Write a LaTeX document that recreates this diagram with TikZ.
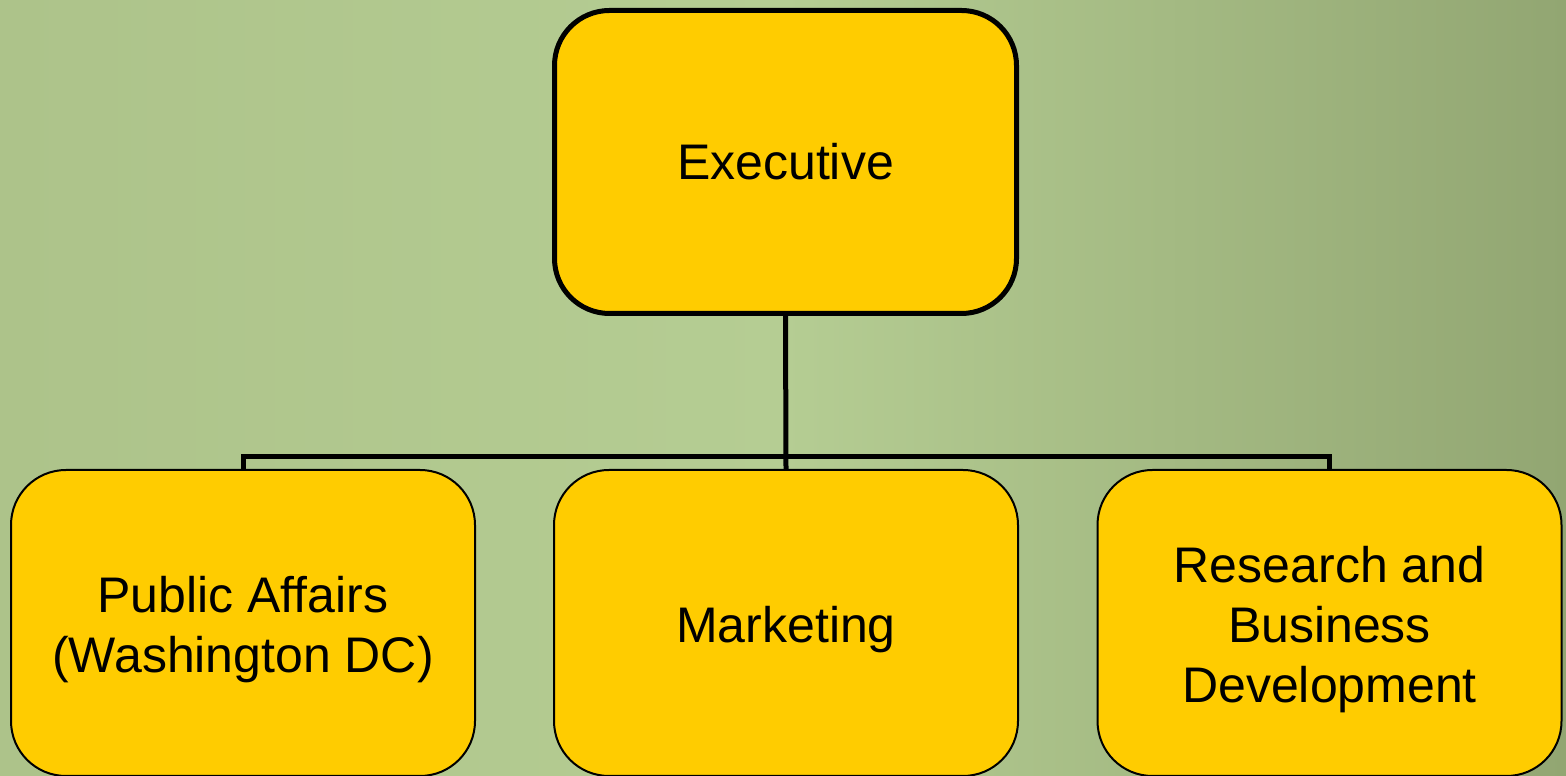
\documentclass[tikz,border=0pt]{standalone}
\usepackage{fontspec}
\setmainfont{Liberation Sans}
\definecolor{bgleft}{HTML}{ADC38A}
\definecolor{bgmid}{HTML}{B5CD93}
\definecolor{bgright}{HTML}{92A672}
\definecolor{boxfill}{HTML}{FFCC00}
\pgfdeclarelayer{bglayer}
\pgfdeclarelayer{wirelayer}
\pgfsetlayers{bglayer,wirelayer,main}
\newcommand{\topstrut}{\rule{0pt}{49pt}}
\tikzset{
  topbox/.style={draw=black, fill=boxfill, line width=5pt, rounded corners=55pt,
    minimum width=462pt, minimum height=303pt, align=center,
    font=\fontsize{50}{60}\selectfont, inner sep=0pt},
  subbox/.style={draw=black, fill=boxfill, line width=2pt, rounded corners=55pt,
    minimum width=464pt, minimum height=306pt, align=center,
    font=\fontsize{50}{60}\selectfont, inner sep=0pt},
  wire/.style={draw=black, line width=5pt}
}
\begin{document}
\begin{tikzpicture}[x=1pt,y=1pt]
\useasboundingbox (0,0) rectangle (1566,776);
\clip (0,0) rectangle (1566,776);
\begin{pgfonlayer}{bglayer}
\shade[left color=bgleft, right color=bgright, middle color=bgmid] (0,0) rectangle (1566,776);
\end{pgfonlayer}
\node[topbox] (exec) at (785.5,614) {Executive};
\node[subbox] (pa) at (243,153) {\topstrut Public Affairs\\(Washington DC)};
\node[subbox] (mkt) at (786,153) {\topstrut Marketing};
\node[subbox] (rd) at (1329.5,153) {\topstrut Research and\\Business\\ Development};
\coordinate (bus) at (786,319);
\begin{pgfonlayer}{wirelayer}
\draw[wire] (exec.south) -- (mkt.north);
\draw[wire] (pa.north) |- (bus) -| (rd.north);
\end{pgfonlayer}
\end{tikzpicture}
\end{document}
